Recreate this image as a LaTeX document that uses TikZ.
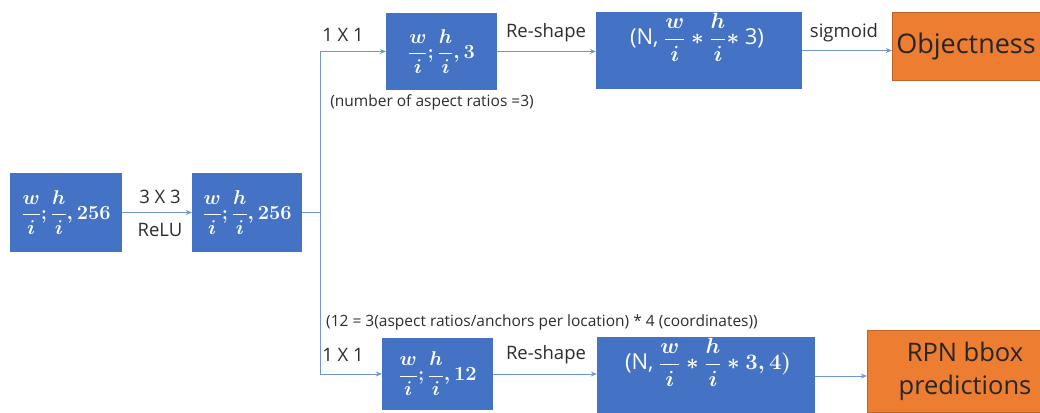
\documentclass[tikz,border=0pt]{standalone}
\usepackage{fix-cm}
\usepackage{fontspec}
\setmainfont{Open Sans}
\setsansfont{Open Sans}
\usetikzlibrary{arrows.meta}
\definecolor{boxblue}{RGB}{68,114,196}
\definecolor{boxorange}{RGB}{237,125,49}
\definecolor{linecol}{RGB}{112,150,205}
\definecolor{txt}{RGB}{45,45,45}
\begin{document}
\begin{tikzpicture}[x=1pt,y=-1pt,
  bluebox/.style={rectangle, fill=boxblue, text=white, inner sep=0pt, font=\fontsize{20}{24}\selectfont\boldmath},
  boxtext/.style={text=white, inner sep=0pt, font=\fontsize{20}{24}\selectfont\boldmath},
  orangebox/.style={rectangle, fill=boxorange, draw=boxorange!80!black, text=black!85, inner sep=0pt, align=center},
  conn/.style={draw=linecol, line width=1pt},
  arr/.style={conn, -{Stealth[length=6pt,width=5pt]}},
  lbl/.style={text=txt, font=\fontsize{18.5}{22}\selectfont, inner sep=0pt},
  note/.style={text=txt, font=\fontsize{15.5}{18}\selectfont, inner sep=0pt}]
\useasboundingbox (0,0) rectangle (1040,412);
\clip (0,0) rectangle (1040,412);
% boxes
\node[bluebox, minimum width=112pt, minimum height=79pt] (A) at (66,212.5) {$\displaystyle\frac{w}{i};\frac{h}{i},256$};
\node[bluebox, minimum width=110pt, minimum height=79pt] (B) at (247,212.5) {$\displaystyle\frac{w}{i};\frac{h}{i},256$};
\node[bluebox, minimum width=111pt, minimum height=77pt] (C) at (441.5,51.5) {$\displaystyle\frac{w}{i};\frac{h}{i},3$};
\node[bluebox, minimum width=206pt, minimum height=77pt] (D) at (699,50.5) {};
\node[boxtext, font=\fontsize{22}{26}\selectfont\boldmath] (Dt) at (697,37) {(N, $\displaystyle\frac{w}{i}\ast\frac{h}{i}\ast$\ 3)};
\node[orangebox, minimum width=148pt, minimum height=68pt, font=\fontsize{27}{30}\selectfont] (E) at (966,46) {Objectness};
\node[bluebox, minimum width=111pt, minimum height=72pt] (F) at (437.5,374) {$\displaystyle\frac{w}{i};\frac{h}{i},12$};
\node[bluebox, minimum width=218pt, minimum height=78pt] (G) at (706,376) {};
\node[boxtext, font=\fontsize{22}{26}\selectfont\boldmath] (Gt) at (708,362) {(N, $\displaystyle\frac{w}{i}\ast\frac{h}{i}\ast 3, 4)$};
\node[orangebox, minimum width=196pt, minimum height=82pt, font=\fontsize{25.5}{33}\selectfont] (H) at (965,371) {RPN bbox\\predictions};
% connectors
\coordinate (S) at (320,212.5);
\draw[arr] (A) -- (B);
\draw[conn] (B.east) -- (S);
\draw[arr] (S) |- (C.west);
\draw[arr] (S) |- (F.west);
\draw[arr] (C.east) -- (C.east -| D.west);
\draw[arr] (D.east) -- (D.east -| E.west);
\draw[arr] (F.east) -- (F.east -| G.west);
\draw[arr] (G.east) -- (G.east -| H.west);
% labels
\node[lbl] (l33) at (160,197) {3 X 3};
\node[lbl] (lrelu) at (160,230) {ReLU};
\node[lbl] (l11a) at (343,35) {1 X 1};
\node[lbl] (lrsa) at (546,33) {Re-shape};
\node[lbl] (lsig) at (844,33) {sigmoid};
\node[note] (nA) at (432,102) {(number of aspect ratios =3)};
\node[note] (nB) at (542,322) {(12 = 3(aspect ratios/anchors per location) * 4 (coordinates))};
\node[lbl] (l11b) at (343,355) {1 X 1};
\node[lbl] (lrsb) at (546,355) {Re-shape};
\end{tikzpicture}
\end{document}
